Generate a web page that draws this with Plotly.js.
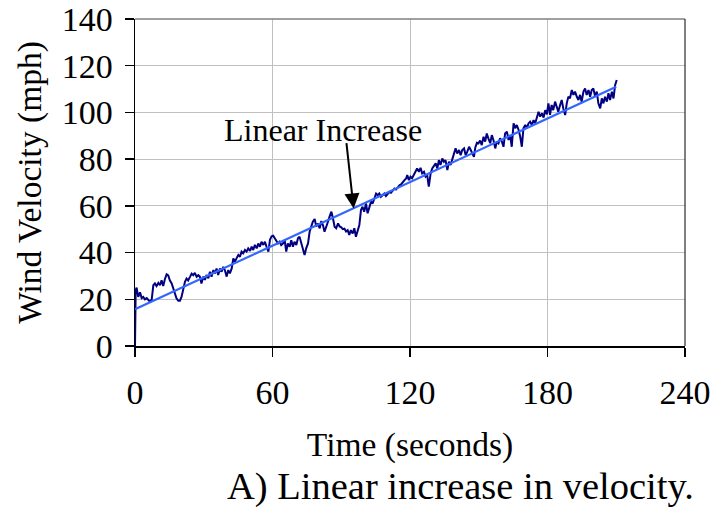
<!DOCTYPE html>
<html>
<head>
<meta charset="utf-8">
<script src="https://cdn.plot.ly/plotly-3.0.1.min.js"></script>
<style>html,body{margin:0;padding:0;background:#fff;}#chart{width:714px;height:508px;}</style>
</head>
<body>
<div id="chart"></div>
<script>
// Measured wind velocity (mph) vs time (s)
var timeSec = [
 0, 0.3, 0.7, 1.4, 2.2, 2.9, 3.6, 4.3, 5.1, 6.5, 7.3, 8.0, 8.7, 9.4, 10.2, 10.9, 11.6, 12.3, 13.1, 13.8,
 14.5, 15.2, 16.0, 16.7, 17.4, 18.1, 18.9, 19.6, 20.3, 21.1, 21.8, 22.5, 23.2, 24.0, 24.7, 25.4, 26.1, 26.9, 27.6,
 28.3, 29.0, 29.8, 30.5, 31.2, 32.0, 32.7, 33.4, 34.2, 34.9, 35.6, 36.3, 37.1, 37.8, 38.5, 39.2, 40.0, 40.7,
 41.4, 42.2, 42.9, 43.6, 44.3, 45.1, 45.8, 46.5, 47.2, 48.0, 48.7, 49.4, 50.2, 50.9, 51.6, 52.3, 53.1, 53.8,
 54.5, 55.2, 56.0, 56.7, 57.4, 58.2,
 58.9, 59.6, 60.3, 61.0, 61.7, 62.4, 63.1, 63.8, 64.6, 65.3, 66.0, 66.7, 67.5, 68.2, 68.9, 69.6, 70.4, 71.1,
 71.8, 72.6, 73.3, 74.0, 74.7, 75.5, 76.2, 76.9, 77.6, 78.4, 79.1, 79.8, 80.6, 81.3, 82.0, 82.7, 83.5, 84.2,
 84.9, 85.7, 86.4, 87.1, 87.8,
 88.6, 89.3, 90.0, 90.7, 91.4, 92.1, 92.8, 93.5, 94.2, 95.0, 95.7, 96.4, 97.1, 97.9, 98.6, 99.3, 100.0, 100.8,
 101.5, 102.2, 103.0, 103.7, 104.4, 105.2, 105.9, 106.6, 107.3, 108.1, 108.8, 109.5, 110.3, 111.0, 111.7,
 112.4, 113.2, 113.9, 114.6, 115.4, 116.1, 116.8, 117.5,
 118.3, 118.8, 119.5, 120.2, 120.9, 121.7, 122.4, 123.1, 123.9, 124.6, 125.3, 126.1, 126.8, 127.5, 128.2,
 129.0, 129.7, 130.4, 131.2, 131.9, 132.6, 133.3, 134.1, 134.8, 135.5, 136.3, 137.0, 137.7, 138.5, 139.2,
 139.9, 140.6, 141.4, 142.1, 142.8, 143.6, 144.3, 145.0, 145.8, 146.5, 147.2,
 147.9, 148.5, 149.2, 149.9, 150.6, 151.3, 152.1, 152.8, 153.5, 154.2, 155.0, 155.7, 156.4, 157.2, 157.9,
 158.6, 159.3, 160.1, 160.8, 161.5, 162.3, 163.0, 163.7, 164.4, 165.2, 165.9, 166.6, 167.4, 168.1, 168.8,
 169.5, 170.3, 171.0, 171.7, 172.4, 173.2, 173.9, 174.6, 175.4, 176.1, 176.8, 177.6,
 178.3, 179.0, 179.7, 180.4, 181.1, 181.8, 182.5, 183.3, 184.0, 184.7, 185.5, 186.2, 186.9, 187.7, 188.4,
 189.1, 189.8, 190.6, 191.3, 192.0, 192.8, 193.5, 194.2, 194.9, 195.7, 196.4, 197.1, 197.9, 198.6, 199.3,
 200.0, 200.8, 201.5, 202.2, 203.0, 203.7, 204.4, 205.1, 205.9, 206.6, 207.3, 208.1, 208.8, 209.5, 210.2
];
var velocityMph = [
 0, 24, 25, 21, 23, 20.5, 21, 20, 20.5, 19, 20, 26, 26.8, 25.7, 27, 26, 28.1, 25.7, 28.8, 30.7,
 30.2, 28.1, 26.8, 24.6, 22.5, 20.4, 19.4, 19.4, 21, 25.4, 27.5, 28.9, 28.1, 29.6, 31, 30.3, 31.3, 29.6, 30.3,
 29.7, 26.8, 29.7, 28.3, 30.4, 29, 31.8, 29.7, 32.5, 31.1, 33.2, 30.4, 33.2, 31.8, 33.9, 32.5, 29.7, 32.5,
 31.1, 33.2, 37.5, 36.1, 37.5, 39, 38.2, 40.4, 39.7, 41.1, 40.4, 41.8, 40.7, 42.5, 41.1, 43.3, 41.8, 43.9,
 42.5, 44.6, 43.3, 44.6, 42.5, 40.4,
 45.5, 47, 47.2, 46, 45.3, 43.9, 44.6, 43.2, 43.9, 45.3, 40.4, 43.9, 42.5, 45.3, 42.5, 44.6, 43.2, 46.1,
 46.8, 43.9, 41.8, 39, 41.8, 43.9, 48.9, 51.1, 53.2, 54.4, 51.1, 52.5, 50.4, 53.5, 51.8, 48.9, 51.8, 53.2,
 55.4, 57.5, 54.6, 51.1, 50.4,
 52.5, 51.2, 50.8, 50, 50.2, 49, 49.6, 47.5, 49.6, 48.2, 50.4, 46.8, 48.9, 51.8, 58.2, 59.6, 57.5, 61,
 56.8, 59.6, 61.8, 61, 63.2, 65.3, 64.6, 65.3, 63.9, 64.6, 65.3, 64.2, 65, 66, 65.6,
 66.7, 67.4, 67, 68.1, 68.8, 69.2, 70.2, 70.9,
 71.7, 73.2, 71, 72.5, 71.8, 73.5, 74.6, 76, 74.6, 76.3, 73.9, 74.6, 72.5, 73.2, 68.2,
 73.9, 76, 76.8, 78.2, 76, 79.6, 77.5, 80.3, 78.9, 79.6, 75.3, 78.9, 77.5, 80.3, 81.7,
 84.6, 82.4, 83.9, 81.7, 83.9, 84.6, 81.7, 83.2, 85.3, 83.9, 82.4,
 81, 85, 87, 86.8, 88, 86, 89.6, 87.5, 91, 88.9, 86.8, 90.3, 88.2, 84.6, 87.5,
 86.8, 88.9, 87.5, 85.3, 91, 91.8, 88.2, 90.3, 85.3, 95.3, 93.2, 94.6, 92.5, 89.6, 85.3,
 93.2, 94.6, 93.2, 95.3, 96, 94.6, 96.7, 95.3, 98.2, 100.3, 98.2, 99.6,
 97.8, 101, 99.2, 103.9, 99, 103.2, 101, 104.6, 102.5, 100.3, 103.2, 105.3, 101.7, 98.9, 103.9,
 106.7, 106, 109.6, 107.5, 108.9, 106.7, 105.3, 107.5, 104.6, 108.9, 110.3, 107.5, 109.6, 106.7, 109.6,
 110.3, 106.7, 108.9, 103.9, 101.7, 106, 103.9, 106.7, 104.6, 108.2, 105.3, 108.9, 106, 111.7, 113.9
];
// Linear trend line end points
var trendTime = [0, 210];
var trendMph = [15.7, 111];

var xTicks = [0, 60, 120, 180, 240];
var yTicks = [0, 20, 40, 60, 80, 100, 120, 140];

var serif = '"Liberation Serif", "Times New Roman", serif';

var traces = [
  {x: timeSec, y: velocityMph, type: 'scatter', mode: 'lines',
   line: {color: '#000080', width: 2}, hoverinfo: 'skip', showlegend: false},
  {x: trendTime, y: trendMph, type: 'scatter', mode: 'lines',
   line: {color: '#3366ff', width: 2.2}, hoverinfo: 'skip', showlegend: false}
];

var layout = {
  width: 714, height: 508,
  margin: {l: 135, r: 29, t: 19, b: 162},
  paper_bgcolor: '#ffffff', plot_bgcolor: '#ffffff',
  showlegend: false,
  font: {family: serif, color: '#000000'},
  xaxis: {
    range: [0, 240], tickmode: 'array', tickvals: xTicks, ticktext: xTicks.map(String),
    showgrid: true, gridcolor: '#c0c0c0', gridwidth: 1, zeroline: false,
    showline: true, linecolor: '#000000', linewidth: 1.5,
    ticks: 'outside', ticklen: 9, tickwidth: 1.5, tickcolor: '#000000',
    tickfont: {family: serif, size: 34, color: '#000000'},
    ticklabelstandoff: 7,
    title: {text: 'Time (seconds)', font: {family: serif, size: 33.5, color: '#000000'}, standoff: 22},
    automargin: false
  },
  yaxis: {
    range: [0, 140], tickmode: 'array', tickvals: yTicks, ticktext: yTicks.map(String),
    showgrid: true, gridcolor: '#c0c0c0', gridwidth: 1, zeroline: false,
    showline: true, linecolor: '#000000', linewidth: 1.5,
    ticks: 'outside', ticklen: 9, tickwidth: 1.5, tickcolor: '#000000',
    tickfont: {family: serif, size: 34, color: '#000000'},
    ticklabelstandoff: 5,
    title: {text: 'Wind Velocity (mph)', font: {family: serif, size: 33.5, color: '#000000'}, standoff: 10},
    automargin: false
  },
  shapes: [
    {type: 'line', xref: 'paper', yref: 'paper', x0: 0, x1: 1, y0: 1, y1: 1,
     line: {color: '#808080', width: 1.5}},
    {type: 'line', xref: 'paper', yref: 'paper', x0: 1, x1: 1, y0: 0, y1: 1,
     line: {color: '#000000', width: 1}}
  ],
  annotations: [
    {x: 81.9, y: 92.5, xref: 'x', yref: 'y', text: 'Linear Increase', showarrow: false,
     xanchor: 'center', yanchor: 'middle', font: {family: serif, size: 32, color: '#000000'}},
    {x: 95.4, y: 58.9, ax: 92.2, ay: 87.5, xref: 'x', yref: 'y', axref: 'x', ayref: 'y',
     text: '', showarrow: true, arrowhead: 2, arrowsize: 1.5, arrowwidth: 2, arrowcolor: '#000000'},
    {x: 0.591, y: -0.431, xref: 'paper', yref: 'paper', text: 'A) Linear increase in velocity.',
     showarrow: false, xanchor: 'center', yanchor: 'middle',
     font: {family: serif, size: 38.5, color: '#000000'}}
  ]
};

Plotly.newPlot('chart', traces, layout, {staticPlot: true, displayModeBar: false});
</script>
</body>
</html>
